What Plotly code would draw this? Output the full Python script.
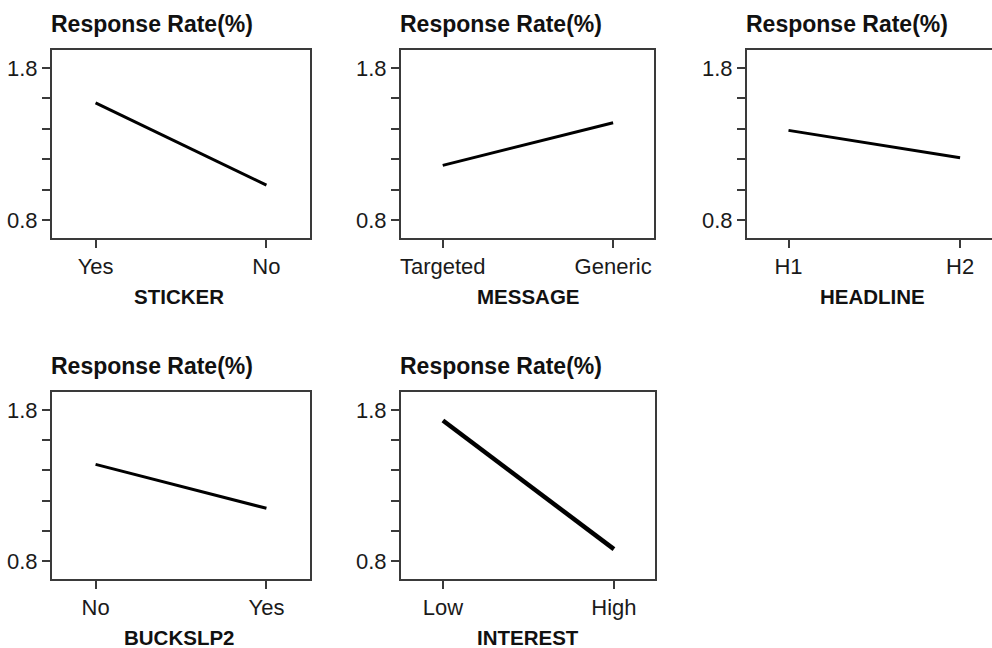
import plotly.graph_objects as go

# Data
factors = ["STICKER", "MESSAGE", "HEADLINE", "BUCKSLP2", "INTEREST"]
levels = [["Yes", "No"], ["Targeted", "Generic"], ["H1", "H2"], ["No", "Yes"], ["Low", "High"]]
sticker_rate = [1.57, 1.03]
message_rate = [1.16, 1.44]
headline_rate = [1.39, 1.21]
buckslp2_rate = [1.44, 1.15]
interest_rate = [1.73, 0.88]
rates = [sticker_rate, message_rate, headline_rate, buckslp2_rate, interest_rate]
line_widths = [3, 3, 3, 3, 4.5]

W, H = 992, 648
FONT = "Arial, Liberation Sans, sans-serif"
AXC = "#3a3a3a"

# panel boxes in pixels: (left, right, top, bottom, xmin, xmax)
boxes = [
    (52, 310, 50, 238, -0.255, 1.255),
    (401, 654, 50, 238, -0.245, 1.24),
    (747, 992, 50, 238, -0.242, 1.186),
    (52, 310, 392, 579, -0.255, 1.255),
    (401, 655, 392, 579, -0.245, 1.24),
]
ymin, ymax = 0.683, 1.918
title_y = [24, 24, 24, 366, 366]
axtitle_x = [179, 528, 872, 179, 528]
axtitle_y = [296, 296, 296, 637, 637]

fig = go.Figure()
annotations = []
for i in range(5):
    l, r, t, b, xmn, xmx = boxes[i]
    xa = "x" if i == 0 else f"x{i+1}"
    ya = "y" if i == 0 else f"y{i+1}"
    fig.add_trace(go.Scatter(
        x=[0, 1], y=rates[i], mode="lines",
        line=dict(color="black", width=line_widths[i]),
        xaxis=xa, yaxis=ya, showlegend=False, hoverinfo="skip"))
    xkey = "xaxis" if i == 0 else f"xaxis{i+1}"
    ykey = "yaxis" if i == 0 else f"yaxis{i+1}"
    fig.layout[xkey] = dict(
        domain=[l / W, min(r / W, 1.0)], anchor=ya, range=[xmn, xmx],
        tickvals=[0, 1], ticktext=levels[i], ticks="outside", ticklen=8,
        tickwidth=2, tickcolor=AXC, showline=True, linecolor=AXC, linewidth=2,
        mirror=True, showgrid=False, zeroline=False, fixedrange=True,
        tickfont=dict(family=FONT, size=22, color="#1a1a1a"))
    fig.layout[ykey] = dict(
        domain=[1 - b / H, 1 - t / H], anchor=xa, range=[ymin, ymax],
        tickvals=[0.8, 1.0, 1.2, 1.4, 1.6, 1.8],
        ticktext=["0.8", "", "", "", "", "1.8"], ticks="outside", ticklen=8,
        tickwidth=2, tickcolor=AXC, showline=True, linecolor=AXC, linewidth=2,
        mirror=(i != 2), showgrid=False, zeroline=False, fixedrange=True,
        tickfont=dict(family=FONT, size=22, color="#1a1a1a"))
    annotations.append(dict(
        text="<b>Response Rate(%)</b>", xref="paper", yref="paper",
        x=(l - 3) / W, y=1 - title_y[i] / H, xanchor="left", yanchor="middle",
        showarrow=False, font=dict(family=FONT, size=23, color="#111")))
    annotations.append(dict(
        text=f"<b>{factors[i]}</b>", xref="paper", yref="paper",
        x=axtitle_x[i] / W, y=1 - axtitle_y[i] / H, xanchor="center",
        yanchor="middle", showarrow=False,
        font=dict(family=FONT, size=20.5, color="#111")))

fig.update_layout(
    width=W, height=H, margin=dict(l=0, r=0, t=0, b=0),
    paper_bgcolor="white", plot_bgcolor="white",
    annotations=annotations, showlegend=False)

fig.write_html(
    "out.html", config={"displayModeBar": False},
    post_script="document.body.style.margin='0';document.body.style.overflow='hidden';")
